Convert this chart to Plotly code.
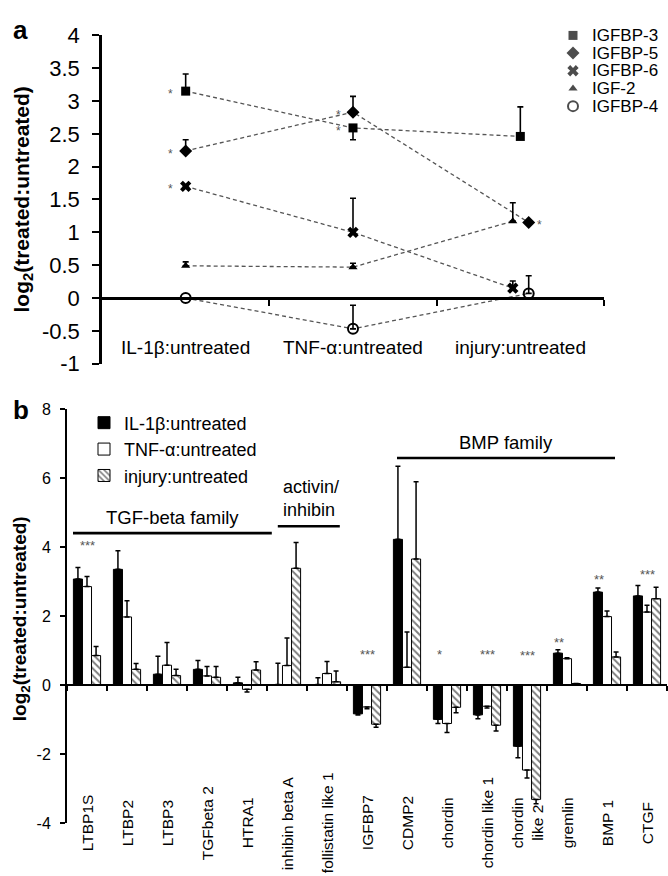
import plotly.graph_objects as go

W, H = 668, 876
FONT = "Liberation Sans, Arial, sans-serif"

# ---------------- Panel a data ----------------
CONDITIONS_A = ["IL-1β:untreated", "TNF-α:untreated", "injury:untreated"]
SERIES_A = ["IGFBP-3", "IGFBP-5", "IGFBP-6", "IGF-2", "IGFBP-4"]
IGFBP3 = [3.15, 2.59, 2.46]
IGFBP3_UP = [0.26, 0.0, 0.45]
IGFBP3_DN = [0.0, 0.18, 0.0]
IGFBP5 = [2.24, 2.83, 1.15]
IGFBP5_UP = [0.17, 0.24, 0.0]
IGFBP5_DN = [0.0, 0.0, 0.0]
IGFBP6 = [1.70, 1.00, 0.15]
IGFBP6_UP = [0.0, 0.52, 0.11]
IGFBP6_DN = [0.0, 0.0, 0.0]
IGF2 = [0.49, 0.47, 1.17]
IGF2_UP = [0.06, 0.06, 0.28]
IGF2_DN = [0.0, 0.0, 0.0]
IGFBP4 = [0.0, -0.47, 0.07]
IGFBP4_UP = [0.0, 0.36, 0.27]
IGFBP4_DN = [0.0, 0.0, 0.0]
TICKS_A = [-1, -0.5, 0, 0.5, 1, 1.5, 2, 2.5, 3, 3.5, 4]
TICK_TEXT_A = ["-1", "-0.5", "0", "0.5", "1", "1.5", "2", "2.5", "3", "3.5", "4"]
# significance stars: (series, condition index, side)
SIG_A = [("IGFBP-3", 0, "left"), ("IGFBP-5", 0, "left"), ("IGFBP-6", 0, "left"),
         ("IGFBP-5", 1, "left"), ("IGFBP-3", 1, "left"), ("IGFBP-5", 2, "right")]

# ---------------- Panel b data ----------------
GENES = ["LTBP1S", "LTBP2", "LTBP3", "TGFbeta 2", "HTRA1", "inhibin beta A",
         "follistatin like 1", "IGFBP7", "CDMP2", "chordin", "chordin like 1",
         "chordin like 2", "gremlin", "BMP 1", "CTGF"]
GENE_LABELS = ["LTBP1S", "LTBP2", "LTBP3", "TGFbeta 2", "HTRA1", "inhibin beta A",
               "follistatin like 1", "IGFBP7", "CDMP2", "chordin", "chordin like 1",
               "chordin<br>like 2", "gremlin", "BMP 1", "CTGF"]
SERIES_B = ["IL-1β:untreated", "TNF-α:untreated", "injury:untreated"]
IL1B = [3.08, 3.36, 0.32, 0.46, 0.07, 0.02, 0.02, -0.83, 4.23, -0.99, -0.86, -1.77, 0.93, 2.70, 2.59]
IL1B_ERR = [0.33, 0.54, 0.52, 0.26, 0.16, 0.62, 0.20, 0.03, 2.12, 0.12, 0.11, 0.33, 0.10, 0.12, 0.30]
TNF = [2.86, 1.98, 0.58, 0.27, -0.12, 0.57, 0.34, -0.63, 0.52, -1.11, -0.61, -2.46, 0.77, 1.99, 2.12]
TNF_ERR = [0.29, 0.47, 0.66, 0.27, 0.08, 0.80, 0.35, 0.05, 1.02, 0.26, 0.05, 0.23, 0.03, 0.16, 0.20]
INJ = [0.86, 0.46, 0.28, 0.23, 0.44, 3.39, 0.10, -1.13, 3.66, -0.64, -1.16, -3.31, 0.05, 0.82, 2.51]
INJ_ERR = [0.26, 0.17, 0.18, 0.31, 0.24, 0.75, 0.31, 0.09, 2.24, 0.16, 0.17, 0.13, 0.0, 0.14, 0.33]
SIG_B = ["***", "", "", "", "", "", "", "***", "", "*", "***", "***", "**", "**", "***"]
SIG_B_Y = [4.16, 0, 0, 0, 0, 0, 0, 1.0, 0, 1.0, 1.0, 0.97, 1.36, 3.19, 3.34]
TICKS_B = [-4, -2, 0, 2, 4, 6, 8]
TICK_TEXT_B = ["-4", "-2", "0", "2", "4", "6", "8"]
GROUP_NAMES = ["TGF-beta family", "activin/<br>inhibin", "BMP family"]
GROUP_SPANS = [(-0.35, 4.62), (4.77, 6.32), (7.75, 13.2)]
GROUP_LINE_Y = [4.41, 4.61, 6.59]

# ---------------- styles ----------------
STYLE_A = {
    "IGFBP-3": dict(symbol="square", size=9),
    "IGFBP-5": dict(symbol="diamond", size=10),
    "IGFBP-6": dict(symbol="x", size=10),
    "IGF-2": dict(symbol="triangle-up", size=8),
    "IGFBP-4": dict(symbol="circle-open", size=10),
}
INJURY_SHIFT = {"IGFBP-3": 0.0, "IGFBP-5": 0.05, "IGFBP-6": -0.045, "IGF-2": -0.045, "IGFBP-4": 0.05}
SIG_SHIFT = {"left": -15, "right": 11}


def py(p):
    return (H - p) / H


def pxx(p):
    return p / W


ya_dom = [py(362), py(24)]
xa_dom = [pxx(102), pxx(604)]
ya_zero = ya_dom[0] + (0 - (-1)) / 5 * (ya_dom[1] - ya_dom[0])
yb_dom = [py(835), py(409)]
xb_dom = [pxx(67), pxx(667)]
yb_zero = yb_dom[0] + (0 - (-4)) / 12 * (yb_dom[1] - yb_dom[0])

data_a = {
    "IGFBP-3": (IGFBP3, IGFBP3_UP, IGFBP3_DN),
    "IGFBP-5": (IGFBP5, IGFBP5_UP, IGFBP5_DN),
    "IGFBP-6": (IGFBP6, IGFBP6_UP, IGFBP6_DN),
    "IGF-2": (IGF2, IGF2_UP, IGF2_DN),
    "IGFBP-4": (IGFBP4, IGFBP4_UP, IGFBP4_DN),
}

fig = go.Figure()

# ---- panel a traces ----
for name in SERIES_A:
    vals, up, dn = data_a[name]
    xs = [i + (INJURY_SHIFT[name] if i == 2 else 0.0) for i in range(len(CONDITIONS_A))]
    fig.add_trace(go.Scatter(
        x=xs, y=vals, mode="lines", xaxis="x", yaxis="y", showlegend=False,
        line=dict(color="#555555", width=1.3, dash="4px,3px"), hoverinfo="skip"))
for name in SERIES_A:
    vals, up, dn = data_a[name]
    xs = [i + (INJURY_SHIFT[name] if i == 2 else 0.0) for i in range(len(CONDITIONS_A))]
    st = STYLE_A[name]
    fig.add_trace(go.Scatter(
        x=xs, y=vals, mode="markers", xaxis="x", yaxis="y", showlegend=False, name=name,
        marker=dict(symbol=st["symbol"], size=st["size"], color="black",
                    line=dict(color="black", width=2 if "open" in st["symbol"] else 0)),
        error_y=dict(type="data", symmetric=False, array=up, arrayminus=dn,
                     color="black", thickness=1.6, width=3),
        cliponaxis=False))

# ---- panel a legend (manual, tight spacing) ----
fig.add_trace(go.Scatter(
    x=[0] * len(SERIES_A), y=list(range(len(SERIES_A))), mode="markers",
    xaxis="x3", yaxis="y3", showlegend=False, hoverinfo="skip", cliponaxis=False,
    marker=dict(symbol=[STYLE_A[n]["symbol"] for n in SERIES_A],
                size=[STYLE_A[n]["size"] for n in SERIES_A], color="black",
                line=dict(color="black", width=[2 if "open" in STYLE_A[n]["symbol"] else 0 for n in SERIES_A]))))

# ---- panel b traces ----
def err_split(vals, errs):
    up = [e if v >= 0 else 0 for v, e in zip(vals, errs)]
    dn = [e if v < 0 else 0 for v, e in zip(vals, errs)]
    return up, dn

bar_styles = [
    dict(color="black", line=dict(color="black", width=1)),
    dict(color="white", line=dict(color="black", width=1)),
    dict(color="white", line=dict(color="black", width=1),
         pattern=dict(shape="\\", fgcolor="black", bgcolor="white", size=5, solidity=0.4)),
]
for name, vals, errs, st in zip(SERIES_B, [IL1B, TNF, INJ], [IL1B_ERR, TNF_ERR, INJ_ERR], bar_styles):
    up, dn = err_split(vals, errs)
    fig.add_trace(go.Bar(
        x=GENES, y=vals, name=name, xaxis="x2", yaxis="y2", marker=st,
        error_y=dict(type="data", symmetric=False, array=up, arrayminus=dn,
                     color="black", thickness=1.5, width=2.5),
        legend="legend"))

annotations = []
# category labels panel a
for i, c in enumerate(CONDITIONS_A):
    annotations.append(dict(x=i, y=-0.75, xref="x", yref="y", text=c, showarrow=False,
                            xanchor="center", yanchor="middle",
                            font=dict(size=19, family=FONT, color="black")))
# significance panel a
for name, ci, side in SIG_A:
    vals = data_a[name][0]
    xs = ci + (INJURY_SHIFT[name] if ci == 2 else 0.0)
    annotations.append(dict(x=xs, y=vals[ci], xref="x", yref="y", text="*", showarrow=False,
                            xanchor="center", yanchor="middle",
                            xshift=SIG_SHIFT[side], yshift=-3,
                            font=dict(size=12, family=FONT, color="#555555")))
# legend text panel a
for i, n in enumerate(SERIES_A):
    annotations.append(dict(x=0, y=i, xref="x3", yref="y3", text=n, showarrow=False,
                            xanchor="left", yanchor="middle", xshift=17,
                            font=dict(size=17, family=FONT, color="black")))
# gene labels panel b
for g, lab in zip(GENES, GENE_LABELS):
    annotations.append(dict(x=g, y=-4, xref="x2", yref="y2", text=lab, showarrow=False,
                            xanchor="center", yanchor="middle",
                            textangle=-90, font=dict(size=15.5, family=FONT, color="black")))
# significance panel b
for g, s, yv in zip(GENES, SIG_B, SIG_B_Y):
    if s:
        annotations.append(dict(x=g, y=yv, xref="x2", yref="y2", text=s, showarrow=False,
                                xanchor="center", yanchor="middle",
                                yshift=-4, xshift=(-8 if len(s) < 3 else 0),
                                font=dict(size=13, family=FONT, color="#555555")))
# group labels panel b
shapes = []
for gname, (x0, x1), ly in zip(GROUP_NAMES, GROUP_SPANS, GROUP_LINE_Y):
    shapes.append(dict(type="line", xref="x2", yref="y2", x0=x0, x1=x1, y0=ly, y1=ly,
                       line=dict(color="black", width=2.6)))
    if "<br>" in gname:
        annotations.append(dict(x=x0, y=ly, xref="x2", yref="y2", text=gname, showarrow=False,
                                xanchor="left", yanchor="bottom", align="left", xshift=3, yshift=4,
                                font=dict(size=18, family=FONT, color="black")))
    else:
        annotations.append(dict(x=(x0 + x1) / 2, y=ly, xref="x2", yref="y2", text=gname,
                                showarrow=False, xanchor="center", yanchor="bottom", yshift=3,
                                font=dict(size=18.5, family=FONT, color="black")))
# panel letters and axis titles
annotations.append(dict(x=pxx(11), y=py(19), xref="paper", yref="paper", text="<b>a</b>",
                        showarrow=False, xanchor="left", yanchor="middle",
                        font=dict(size=26, family=FONT, color="black")))
annotations.append(dict(x=pxx(11), y=py(410), xref="paper", yref="paper", text="<b>b</b>",
                        showarrow=False, xanchor="left", yanchor="middle",
                        font=dict(size=26, family=FONT, color="black")))
annotations.append(dict(x=pxx(23), y=py(193), xref="paper", yref="paper",
                        text="<b>log<sub>2</sub>(treated:untreated)</b>", textangle=-90,
                        xanchor="center", yanchor="middle",
                        showarrow=False, font=dict(size=21, family=FONT, color="black")))
annotations.append(dict(x=pxx(21), y=py(625), xref="paper", yref="paper",
                        text="<b>log<sub>2</sub>(treated:untreated)</b>", textangle=-90,
                        xanchor="center", yanchor="middle",
                        showarrow=False, font=dict(size=19, family=FONT, color="black")))

fig.update_layout(
    width=W, height=H, margin=dict(l=0, r=0, t=0, b=0),
    paper_bgcolor="white", plot_bgcolor="white",
    font=dict(family=FONT, color="black"),
    barmode="group", bargap=0.32, bargroupgap=0,
    xaxis=dict(domain=xa_dom, range=[-0.5, 2.5], anchor="free", position=ya_zero,
               showline=True, linecolor="black", linewidth=2.5, ticks="outside",
               tickvals=[0.5, 1.5, 2.5], ticklen=6, tickwidth=2, tickcolor="black",
               showticklabels=False, showgrid=False, zeroline=False),
    yaxis=dict(domain=ya_dom, range=[-1, 4], anchor="x", showline=True, linecolor="black",
               linewidth=2.5, ticks="outside", ticklen=7, tickwidth=2, tickcolor="black",
               tickvals=TICKS_A, ticktext=TICK_TEXT_A, tickfont=dict(size=22, family=FONT),
               ticklabelstandoff=8, showgrid=False, zeroline=False),
    xaxis2=dict(domain=xb_dom, anchor="free", position=yb_zero, type="category",
                range=[-0.5, len(GENES) - 0.5],
                showline=True, linecolor="black", linewidth=2, ticks="outside",
                tickson="boundaries", ticklen=5, tickwidth=2, tickcolor="black",
                showticklabels=False, showgrid=False, zeroline=False),
    yaxis2=dict(domain=yb_dom, range=[-4, 8], anchor="x2", showline=True, linecolor="black",
                linewidth=2, ticks="outside", ticklen=5, tickwidth=2, tickcolor="black",
                tickvals=TICKS_B, ticktext=TICK_TEXT_B, tickfont=dict(size=16, family=FONT),
                ticklabelstandoff=6, showgrid=False, zeroline=False),
    xaxis3=dict(domain=[pxx(566), pxx(580)], range=[-1, 1], visible=False, anchor="y3"),
    yaxis3=dict(domain=[py(106), py(15)], range=[len(SERIES_A) - 0.5, -0.5], visible=False, anchor="x3"),
    legend=dict(x=pxx(84), y=py(404), xanchor="left", yanchor="top",
                font=dict(size=18, family=FONT, color="black"), bgcolor="rgba(0,0,0,0)",
                itemwidth=30, tracegroupgap=0),
    annotations=annotations, shapes=shapes,
)

fig.write_html("out.html")
